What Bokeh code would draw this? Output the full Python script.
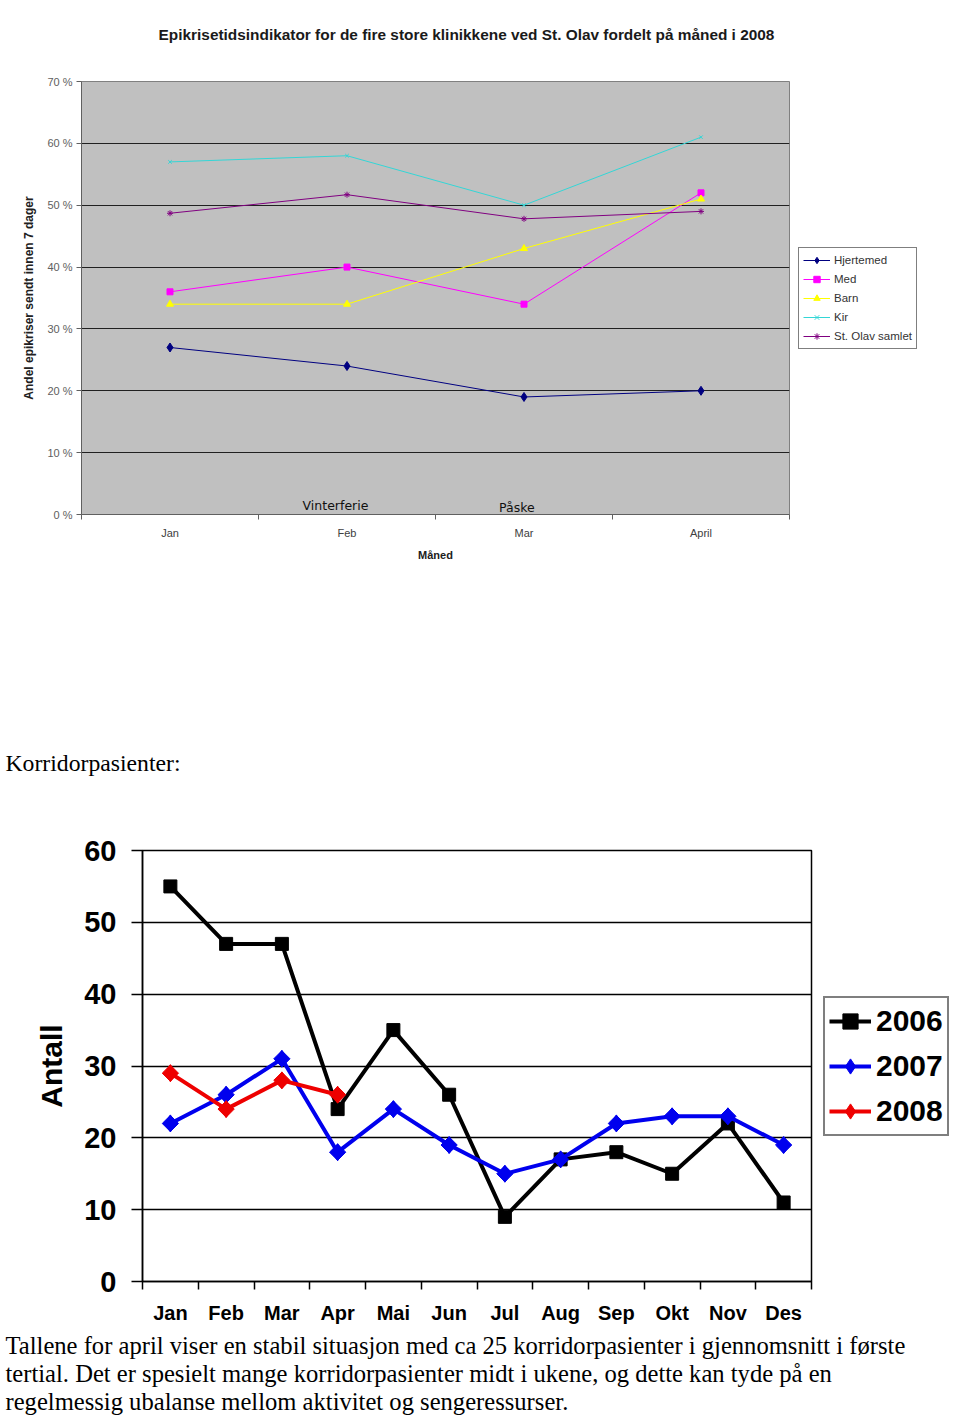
from bokeh.plotting import figure
from bokeh.models import (Range1d, FixedTicker, Legend, LegendItem, Label)
from bokeh.embed import file_html
from bokeh.resources import INLINE
import numpy as np

# ---------------- data: top chart ----------------
months_top = ["Jan", "Feb", "Mar", "April"]
hjertemed = [27, 24, 19, 20]
med = [36, 40, 34, 52]
barn = [34, 34, 43, 51]
kir = [57, 58, 50, 61]
st_olav = [48.7, 51.7, 47.8, 49.0]
pct_ticks = [0, 10, 20, 30, 40, 50, 60, 70]

# ---------------- data: bottom chart ----------------
months = ["Jan", "Feb", "Mar", "Apr", "Mai", "Jun", "Jul", "Aug", "Sep", "Okt", "Nov", "Des"]
y2006 = [55, 47, 47, 24, 35, 26, 9, 17, 18, 15, 22, 11]
y2007 = [22, 26, 31, 18, 24, 19, 15, 17, 22, 23, 23, 19]
y2008 = [29, 24, 28, 26]
count_ticks = [0, 10, 20, 30, 40, 50, 60]

SANS = "Liberation Sans"
SERIF = "Liberation Serif"
W = 960


def text_fig(h):
    f = figure(width=W, height=h, output_backend="svg", toolbar_location=None,
               x_range=Range1d(0, W), y_range=Range1d(h, 0),
               x_axis_location=None, y_axis_location=None,
               min_border=0, outline_line_color=None,
               background_fill_color="white", border_fill_color="white")
    f.grid.visible = False
    return f


# ================= title strip =================
pT0 = text_fig(70)
pT0.add_layout(Label(x=466, y=34,
                     text="Epikrisetidsindikator for de fire store klinikkene ved St. Olav fordelt på måned i 2008",
                     text_align="center", text_baseline="middle",
                     text_font=SANS, text_font_size="15.4px", text_font_style="bold",
                     text_color="#1a1a1a"))

# ================= top chart =================
pA = figure(frame_width=708, frame_height=433, output_backend="svg", toolbar_location=None,
            x_range=Range1d(0, len(months_top)), y_range=Range1d(0, 70),
            min_border_left=81, min_border_right=171, min_border_top=11, min_border_bottom=86,
            background_fill_color="#c0c0c0", border_fill_color="white",
            outline_line_color="#808080", outline_line_width=1)
pA.xgrid.visible = False
pA.ygrid.ticker = FixedTicker(ticks=pct_ticks)
pA.ygrid.grid_line_color = "#202020"
pA.ygrid.grid_line_width = 1

xa = pA.xaxis[0]
xa.ticker = FixedTicker(ticks=[i + 0.5 for i in range(len(months_top))],
                        minor_ticks=list(range(len(months_top) + 1)))
xa.major_label_overrides = {i + 0.5: m for i, m in enumerate(months_top)}
xa.major_tick_out = 0
xa.major_tick_in = 0
xa.minor_tick_out = 5
xa.minor_tick_in = 0
xa.minor_tick_line_color = "#606060"
xa.axis_line_color = "#606060"
xa.major_label_text_font = SANS
xa.major_label_text_font_size = "11px"
xa.major_label_text_color = "#404040"
xa.major_label_standoff = 7
xa.axis_label = "Måned"
xa.axis_label_text_font = SANS
xa.axis_label_text_font_size = "11px"
xa.axis_label_text_font_style = "bold"
xa.axis_label_text_color = "#202020"
xa.axis_label_standoff = 7

ya = pA.yaxis[0]
ya.ticker = FixedTicker(ticks=pct_ticks)
ya.major_label_overrides = {t: f"{t} %" for t in pct_ticks}
ya.major_tick_out = 5
ya.major_tick_in = 0
ya.minor_tick_out = 0
ya.minor_tick_in = 0
ya.major_tick_line_color = "#606060"
ya.axis_line_color = "#606060"
ya.major_label_text_font = SANS
ya.major_label_text_font_size = "11px"
ya.major_label_text_color = "#606060"
ya.major_label_standoff = 4
ya.axis_label = "Andel epikriser sendt innen 7 dager"
ya.axis_label_text_font = SANS
ya.axis_label_text_font_size = "12px"
ya.axis_label_text_font_style = "bold"
ya.axis_label_text_color = "#202020"
ya.axis_label_standoff = 8

xs_top = [i + 0.5 for i in range(len(months_top))]
series_top = [
    ("Hjertemed", hjertemed, "#000080", "diamond", 9),
    ("Med", med, "#ff00ff", "square", 6),
    ("Barn", barn, "#ffff00", "triangle", 7),
    ("Kir", kir, "#33d6d6", "x", 5),
    ("St. Olav samlet", st_olav, "#800080", "asterisk", 6),
]
items_top = []
for name, vals, col, mk, sz in series_top:
    r1 = pA.line(xs_top, vals, line_color=col, line_width=1)
    r2 = pA.scatter(xs_top, vals, marker=mk, size=sz, fill_color=col, line_color=col)
    items_top.append(LegendItem(label=name, renderers=[r1, r2]))

legA = Legend(items=items_top, location="center_left", orientation="vertical",
              border_line_color="black", border_line_width=1,
              background_fill_color="white", background_fill_alpha=1,
              label_text_font=SANS, label_text_font_size="11.5px", label_text_color="#333333",
              glyph_width=27, glyph_height=16, label_height=16, label_standoff=4,
              spacing=3, padding=4, margin=9)
pA.add_layout(legA, "right")

pA.add_layout(Label(x=1.435, y=1.45, text="Vinterferie", text_align="center", text_baseline="middle",
                    text_font="DejaVu Sans", text_font_size="12.5px", text_color="#111111"))
pA.add_layout(Label(x=2.46, y=1.1, text="Påske", text_align="center", text_baseline="middle",
                    text_font="DejaVu Sans", text_font_size="12.5px", text_color="#111111"))

# ================= heading strip =================
pT1 = text_fig(230)
pT1.add_layout(Label(x=5, y=162, text="Korridorpasienter:", text_align="left",
                     text_baseline="middle", text_font=SERIF, text_font_size="23.7px",
                     text_color="black"))

# ================= bottom chart =================
pB = figure(frame_width=669, frame_height=431, output_backend="svg", toolbar_location=None,
            x_range=Range1d(0, len(months)), y_range=Range1d(0, 60),
            min_border_left=142, min_border_right=146, min_border_top=20, min_border_bottom=51,
            background_fill_color="white", border_fill_color="white",
            outline_line_color="black", outline_line_width=1.5)
pB.xgrid.visible = False
pB.ygrid.ticker = FixedTicker(ticks=count_ticks)
pB.ygrid.grid_line_color = "black"
pB.ygrid.grid_line_width = 1.3

xb = pB.xaxis[0]
xb.ticker = FixedTicker(ticks=[i + 0.5 for i in range(len(months))],
                        minor_ticks=list(range(len(months) + 1)))
xb.major_label_overrides = {i + 0.5: m for i, m in enumerate(months)}
xb.major_tick_out = 0
xb.major_tick_in = 0
xb.minor_tick_out = 8
xb.minor_tick_in = 0
xb.minor_tick_line_color = "black"
xb.minor_tick_line_width = 1.5
xb.axis_line_color = "black"
xb.axis_line_width = 1.5
xb.major_label_text_font = SANS
xb.major_label_text_font_size = "20px"
xb.major_label_text_font_style = "bold"
xb.major_label_text_color = "black"
xb.major_label_standoff = 12

yb = pB.yaxis[0]
yb.ticker = FixedTicker(ticks=count_ticks)
yb.major_tick_out = 11
yb.major_tick_in = 0
yb.minor_tick_out = 0
yb.minor_tick_in = 0
yb.major_tick_line_color = "black"
yb.major_tick_line_width = 1.5
yb.axis_line_color = "black"
yb.axis_line_width = 1.5
yb.major_label_text_font = SANS
yb.major_label_text_font_size = "29px"
yb.major_label_text_font_style = "bold"
yb.major_label_text_color = "black"
yb.major_label_standoff = 15
yb.axis_label = "Antall"
yb.axis_label_text_font = SANS
yb.axis_label_text_font_size = "30px"
yb.axis_label_text_font_style = "bold"
yb.axis_label_text_color = "black"
yb.axis_label_standoff = 13

xs = [i + 0.5 for i in range(len(months))]
items_b = []
for name, vals, col, diamond in [
    ("2006", y2006, "black", False),
    ("2007", y2007, "#0000ee", True),
    ("2008", y2008, "#ee0000", True),
]:
    xv = xs[:len(vals)]
    r1 = pB.line(xv, vals, line_color=col, line_width=4)
    if diamond:
        # diamond key glyph (sits under the rotated square in the plot)
        rk = pB.scatter(xv, vals, marker="diamond", size=17, fill_color=col, line_color=col)
        pB.scatter(xv, vals, marker="square", size=11.5, angle=np.pi / 4,
                   fill_color=col, line_color=col)
    else:
        rk = pB.scatter(xv, vals, marker="square", size=13, fill_color=col, line_color=col)
    items_b.append(LegendItem(label=name, renderers=[r1, rk]))

legB = Legend(items=items_b, location="center_left", orientation="vertical",
              border_line_color="black", border_line_width=2,
              background_fill_color="white", background_fill_alpha=1,
              label_text_font=SANS, label_text_font_size="30px", label_text_font_style="bold",
              label_text_color="black",
              glyph_width=42, glyph_height=38, label_height=38, label_standoff=5,
              spacing=7, padding=4, margin=12)
pB.add_layout(legB, "right")

# ================= paragraph strip =================
pT2 = text_fig(86)
para = [
    "Tallene for april viser en stabil situasjon med ca 25 korridorpasienter i gjennomsnitt i første",
    "tertial.  Det er spesielt mange korridorpasienter midt i ukene, og dette kan tyde på en",
    "regelmessig ubalanse mellom aktivitet og sengeressurser.",
]
for i, line in enumerate(para):
    pT2.add_layout(Label(x=5, y=13 + 28 * i, text=line, text_align="left", text_baseline="middle",
                         text_font=SERIF, text_font_size="24.6px", text_color="black"))

open("out.html", "w").write(file_html([pT0, pA, pT1, pB, pT2], INLINE))
